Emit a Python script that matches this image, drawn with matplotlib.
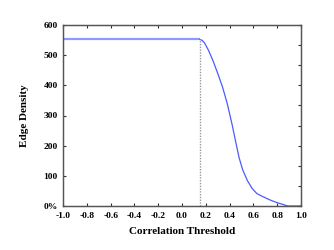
import matplotlib
matplotlib.use("Agg")
import matplotlib.pyplot as plt
from matplotlib.ticker import MultipleLocator

# edge density vs correlation threshold
thresh = [-1.0, 0.15, 0.17, 0.19, 0.22, 0.26, 0.30, 0.34, 0.38, 0.42, 0.45, 0.48,
          0.51, 0.55, 0.59, 0.63, 0.68, 0.74, 0.80, 0.85, 0.89, 1.0]
density = [552, 552, 549, 540, 518, 482, 440, 395, 340, 272, 215, 160,
           120, 84, 58, 41, 31, 20, 11, 5, 0, 0]
cutoff = 0.15
cutoff_density = 552

xticks = [-1.0, -0.8, -0.6, -0.4, -0.2, 0.0, 0.2, 0.4, 0.6, 0.8, 1.0]
yticks = [0, 100, 200, 300, 400, 500, 600]
ylabels = ['0%', '100', '200', '300', '400', '500', '600']

plt.rcParams['font.family'] = ['Liberation Serif', 'DejaVu Serif']
plt.rcParams['font.weight'] = 'bold'

fig = plt.figure(figsize=(3.34, 2.5), dpi=100)
ax = fig.add_axes([0.189, 0.176, 0.712, 0.724])

# flat part drawn lighter, as in the original
n_flat = 2
ax.plot(thresh[:n_flat], density[:n_flat], color='#8a9aff', lw=1.6, solid_capstyle='butt')
ax.plot(thresh[n_flat - 1:], density[n_flat - 1:], color='#4a5cff', lw=0.9)
ax.plot([cutoff, cutoff], [0, cutoff_density], color='#999999', lw=1.0, ls=(0, (1, 1)))

ax.set_xlim(-1.0, 1.0)
ax.set_ylim(0, 600)
ax.set_xticks(xticks)
ax.set_xticklabels(['%.1f' % t for t in xticks])
ax.set_yticks(yticks)
ax.set_yticklabels(ylabels)
ax.tick_params(direction='in', length=2.5, width=0.8, labelsize=6.8, pad=4,
               top=True, colors='#333333', labelcolor='black')

# right side ticks every 1/9 of the height, no labels
ax2 = ax.twinx()
ax2.set_ylim(0, 90)
ax2.yaxis.set_major_locator(MultipleLocator(10))
ax2.tick_params(direction='in', length=2.5, width=0.8, labelright=False, colors='#333333')

for a in (ax, ax2):
    for s in a.spines.values():
        s.set_color('#555555')
        s.set_linewidth(0.9)

ax.set_xlabel('Correlation Threshold', fontsize=8, fontweight='bold', labelpad=5)
ax.set_ylabel('Edge Density', fontsize=8, fontweight='bold', labelpad=10)

fig.savefig('out.png', dpi=100)
